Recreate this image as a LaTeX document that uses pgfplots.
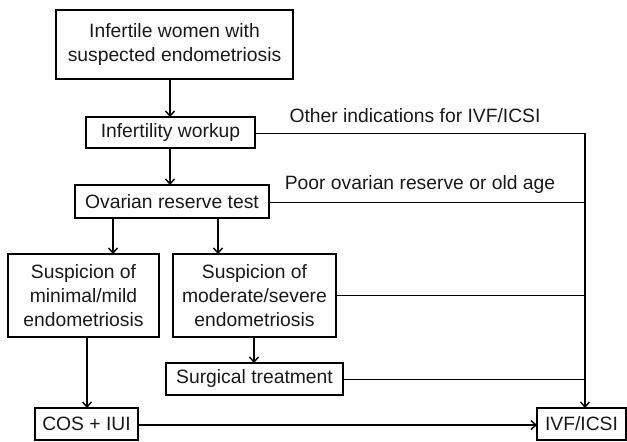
\documentclass[border=0pt]{standalone}
\usepackage{pgfplots}
\pgfplotsset{compat=1.18}
\usepackage{fontspec}
\setmainfont{Liberation Sans}
\usetikzlibrary{arrows.meta}
\begin{document}
\begin{tikzpicture}
\begin{axis}[scale only axis, width=627pt, height=442pt,
  xmin=0, xmax=627, ymin=0, ymax=442, y dir=reverse, hide axis, clip=false]
\path (0,0) rectangle (627,442);
\tikzset{box/.style={line width=2.2pt, line join=miter},
  arr/.style={line width=1.4pt, -{Straight Barb[length=5pt,width=9pt,line width=1.4pt]}},
  thin/.style={line width=1pt},
  lab/.style={font=\fontsize{19.3}{24}\selectfont, align=center, inner sep=0pt, text=black!90}}
% boxes
\draw[box, line width=2.6pt] (56,10) rectangle (293,79);
\node[lab] at (174.5,45) {Infertile women with\\suspected endometriosis};
\draw[box] (86,117) rectangle (255,148);
\node[lab] at (170.5,133) {Infertility workup};
\draw[box] (75,185) rectangle (269,218);
\node[lab] at (172,202) {Ovarian reserve test};
\draw[box] (8,254) rectangle (159,337);
\node[lab] at (83.5,296) {Suspicion of\\minimal/mild\\endometriosis};
\draw[box] (173,254) rectangle (336,337);
\node[lab] at (254.5,296) {Suspicion of\\moderate/severe\\endometriosis};
\draw[box] (166,363) rectangle (343,395);
\node[lab] at (254.5,379) {Surgical treatment};
\draw[box, line width=2pt] (35,408) rectangle (138,440);
\node[lab] at (86.5,424) {COS + IUI};
\draw[box, line width=2pt] (537,408) rectangle (625.5,440);
\node[lab] at (581.5,424) {IVF/ICSI};
% side labels
\node[lab] at (415,116) {Other indications for IVF/ICSI};
\node[lab] at (420,185) {Poor ovarian reserve or old age};
% arrows
\draw[arr] (170,79) -- (170,117);
\draw[arr] (170,148) -- (170,185);
\draw[arr] (113,218) -- (113,254);
\draw[arr] (218,218) -- (218,254);
\draw[arr] (254,337) -- (254,363);
\draw[arr] (87,337) -- (87,408);
\draw[arr, line width=1.6pt] (138,425) -- (537,425);
\draw[arr, line width=1.8pt] (585,132.5) -- (585,408);
% thin connectors
\draw[thin] (255,133) -- (585,133);
\draw[thin] (269,202) -- (585,202);
\draw[thin] (336,295) -- (585,295);
\draw[thin] (343,379) -- (585,379);
\end{axis}
\end{tikzpicture}
\end{document}
